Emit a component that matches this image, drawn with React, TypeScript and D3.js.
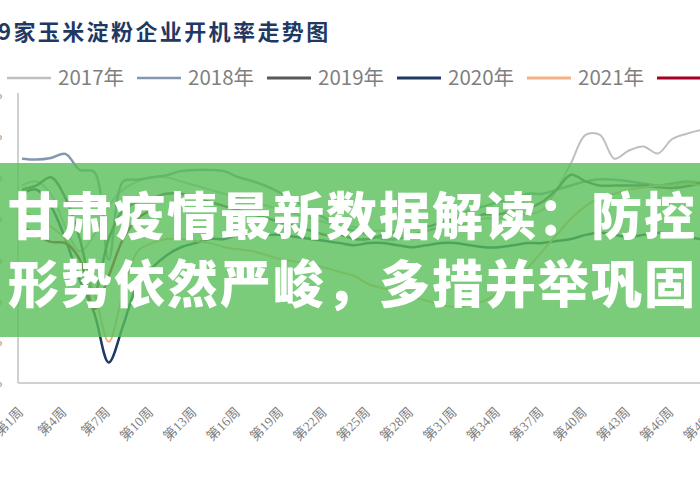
import * as d3 from "d3";

const WIDTH = 700;
const HEIGHT = 500;
const PLOT = { left: 18, top: 93, bottom: 383, firstX: 22, step: 14.45 };

const years = ["2017", "2018", "2019", "2020", "2021", "2022"];
const colors = ["#bfbfbf", "#8497b0", "#595959", "#1f3864", "#f4b183", "#a50021"];
const strokeW = [2, 2.5, 2.5, 2.5, 2, 2.5];

const yTicks = [20, 30, 40, 50, 60, 70, 80, 90];
const weekLabels = d3.range(1, 53, 3).map((w) => `第${w}周`);

// 开机率 (%), 按周
const s2017 = [
  68, 69, 66, 58, 52, 56, 63, 67, 69, 70,
  70, 69, 68, 67, 66, 65, 64, 63, 62, 61,
  60, 59, 58, 58, 57, 57, 56, 56, 57, 58,
  58, 59, 60, 60, 61, 61, 62, 67, 73.5, 80.3,
  80.3, 74.5, 76.5, 77.5, 75.8, 79.3, 80.6, 81.5, 81.8, 82,
  81, 80,
];
const s2018 = [
  74.5, 74.3, 74.7, 75.7, 71.8, 71.3, 50, 69, 69.4, 70,
  70.5, 71.5, 71.8, 71.8, 71.5, 70, 69, 67.7, 66, 64,
  62, 60, 58, 57, 56, 55, 55, 56, 57, 58,
  60, 62, 63, 64, 65, 66, 66, 67, 68, 69,
  69.5, 69.4, 69, 68.5, 68, 68.5, 69, 68.7, 69, 70,
  70, 69,
];
const s2019 = [
  67, 68, 70, 65, 55, 42, 55, 62, 64, 65,
  66, 66, 65, 64, 63, 62, 61, 60, 59, 58,
  57, 56, 56, 55, 55, 56, 57, 58, 58, 59,
  60, 60, 61, 61, 62, 62.5, 64, 67, 70.6, 69,
  68, 68, 68, 68, 67.6, 67.4, 67.8, 68.5, 68.7, 69,
  69, 68,
];
const s2020 = [
  66, 67, 63, 55, 45, 37, 25, 34, 44, 48,
  51, 53, 54, 55, 55, 56, 56, 56, 56, 55.5,
  55, 54.5, 54, 53.5, 54, 54, 53.5, 53, 53.5, 54,
  54, 53.5, 53, 53, 53.5, 54, 54, 54.5, 55, 56,
  56.5, 56, 55.5, 56, 56.5, 56, 55.5, 55, 55, 55.5,
  56, 56.5,
];
const s2021 = [
  62, 60, 58, 55, 50, 42, 30, 42, 52, 54,
  55, 55, 54.5, 54, 53, 52.5, 52, 51, 50, 49.5,
  49, 48, 47, 46, 44, 43, 42, 41, 40, 39,
  38.5, 39, 40, 42, 45, 48, 52, 56, 60, 63,
  65, 66, 67, 67.5, 68, 68, 68.5, 68, 67.5, 67,
  66, 65,
];
const s2022 = [58, 56, 54.3, 54, 50, 38, 46, 55, 60, 62];

const series = [s2017, s2018, s2019, s2020, s2021, s2022];

const bannerLines = ["甘肃疫情最新数据解读：防控", "形势依然严峻，多措并举巩固"];

export default function App() {
  const x = d3
    .scaleLinear()
    .domain([1, 52])
    .range([PLOT.firstX, PLOT.firstX + 51 * PLOT.step]);
  const y = d3.scaleLinear().domain([20, 90]).range([PLOT.bottom, 95]);

  const line = d3
    .line<number>()
    .x((_, i) => x(i + 1))
    .y((d) => y(d))
    .curve(d3.curveCatmullRom);

  return (
    <svg
      width={WIDTH}
      height={HEIGHT}
      style={{ position: "absolute", left: 0, top: 0, background: "#fff" }}
    >
      {/* title */}
      <text
        x={-2}
        y={40}
        fontFamily="Noto Sans CJK SC"
        fontWeight={700}
        fontSize={22}
        letterSpacing={2.4}
        fill="#1f3864"
      >
        9家玉米淀粉企业开机率走势图
      </text>

      {/* legend */}
      {years.map((yr, i) => {
        const x0 = 7 + i * 130;
        return (
          <g key={yr}>
            <line
              x1={x0}
              x2={x0 + 44}
              y1={78}
              y2={78}
              stroke={colors[i]}
              strokeWidth={i < 2 ? 2.5 : 3}
            />
            <text
              x={x0 + 51}
              y={85}
              fontFamily="Noto Sans CJK SC"
              fontSize={20.5}
              fill="#7f7f7f"
            >
              {yr}年
            </text>
          </g>
        );
      })}

      {/* frame */}
      <line x1={PLOT.left} x2={PLOT.left} y1={PLOT.top} y2={PLOT.bottom} stroke="#d0d0d0" strokeWidth={2} />
      <line x1={PLOT.left} x2={WIDTH} y1={PLOT.bottom} y2={PLOT.bottom} stroke="#d0d0d0" strokeWidth={2} />

      {/* y tick labels (cut at the left edge) */}
      {yTicks.map((t) => (
        <text
          key={t}
          x={2}
          y={y(t) + 4}
          textAnchor="end"
          fontFamily="Liberation Serif"
          fontSize={13}
          fill="#8c8c8c"
        >
          {t}%
        </text>
      ))}

      {/* x tick labels */}
      {weekLabels.map((lab, i) => {
        const w = 1 + i * 3;
        return (
          <text
            key={lab}
            transform={`translate(${x(w) + 2},${413}) rotate(-45)`}
            textAnchor="end"
            fontFamily="Liberation Serif, Noto Sans CJK SC"
            fontSize={13.5}
            fill="#7f7f7f"
          >
            {lab}
          </text>
        );
      })}

      {/* series */}
      {series.map((s, i) => (
        <path
          key={years[i]}
          d={line(s) ?? ""}
          fill="none"
          stroke={colors[i]}
          strokeWidth={strokeW[i]}
        />
      ))}

      {/* overlay banner */}
      <rect x={0} y={163} width={WIDTH} height={174} fill="#59bf59" opacity={0.8} />
      {bannerLines.map((t, i) => (
        <text
          key={t}
          x={8}
          y={235 + i * 68}
          fontFamily="Noto Sans CJK SC"
          fontWeight={900}
          fontSize={51}
          letterSpacing={2}
          fill="#ffffff"
        >
          {t}
        </text>
      ))}
    </svg>
  );
}
